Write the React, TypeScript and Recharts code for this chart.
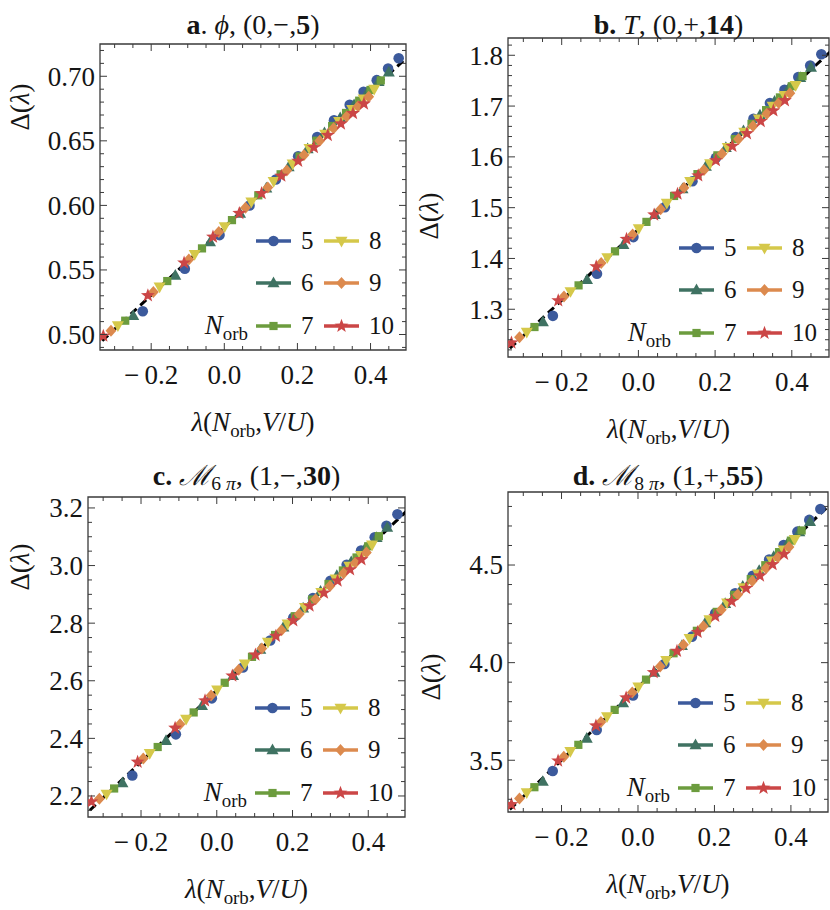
import React from "react";
import {
  ComposedChart,
  Scatter,
  Line,
  XAxis,
  YAxis,
  ReferenceArea,
  Legend,
} from "recharts";

const SERIF = '"Liberation Serif", "Times New Roman", serif';
const FRAME = "#3a3a3a";
const INK = "#151515";

// N_orb series, colours and marker kinds
const orbitals = [5, 6, 7, 8, 9, 10];
const colors = ["#3C5A9C", "#3F7262", "#6C9C3E", "#D5C84A", "#DC8A4E", "#CB4646"];
const markers = ["circle", "up", "square", "down", "diamond", "star"];

// lambda(N_orb, V/U) — same x positions in every panel
const lambda5 = [-0.223, -0.108, -0.013, 0.069, 0.141, 0.202, 0.254, 0.3, 0.343, 0.381, 0.417, 0.448, 0.477];
const lambda6 = [-0.249, -0.134, -0.039, 0.043, 0.115, 0.176, 0.228, 0.274, 0.317, 0.355, 0.391, 0.422, 0.45];
const lambda7 = [-0.271, -0.156, -0.061, 0.021, 0.093, 0.154, 0.206, 0.252, 0.295, 0.333, 0.369, 0.4, 0.428];
const lambda8 = [-0.291, -0.177, -0.081, 0.001, 0.074, 0.135, 0.187, 0.233, 0.276, 0.314, 0.35, 0.381, 0.41];
const lambda9 = [-0.31, -0.194, -0.097, -0.015, 0.058, 0.119, 0.171, 0.218, 0.261, 0.299, 0.335, 0.366, 0.395];
const lambda10 = [-0.331, -0.209, -0.11, -0.031, 0.041, 0.102, 0.156, 0.202, 0.245, 0.283, 0.319, 0.352, 0.382];

// a. phi
const phi5 = [0.518, 0.551, 0.577, 0.6, 0.62, 0.638, 0.653, 0.666, 0.678, 0.688, 0.697, 0.706, 0.714];
const phi6 = [0.5145, 0.5458, 0.5716, 0.5938, 0.6133, 0.6298, 0.6438, 0.6562, 0.6677, 0.6779, 0.6875, 0.6958, 0.7032];
const phi7 = [0.5107, 0.5414, 0.5667, 0.5886, 0.6078, 0.6241, 0.6379, 0.6501, 0.6615, 0.6716, 0.6811, 0.6894, 0.6968];
const phi8 = [0.5069, 0.5369, 0.5621, 0.5836, 0.6027, 0.6187, 0.6322, 0.6442, 0.6553, 0.6652, 0.6745, 0.6826, 0.6901];
const phi9 = [0.5029, 0.533, 0.5581, 0.5793, 0.5982, 0.6138, 0.6271, 0.6391, 0.65, 0.6598, 0.6689, 0.6768, 0.6841];
const phi10 = [0.4989, 0.5302, 0.5555, 0.5756, 0.5939, 0.6093, 0.6228, 0.6343, 0.6449, 0.6543, 0.6632, 0.6713, 0.6787];

// b. T
const t5 = [1.287, 1.37, 1.442, 1.501, 1.552, 1.598, 1.639, 1.675, 1.706, 1.732, 1.757, 1.78, 1.802];
const t6 = [1.275, 1.358, 1.427, 1.486, 1.537, 1.581, 1.618, 1.651, 1.682, 1.709, 1.734, 1.756, 1.776];
const t7 = [1.265, 1.347, 1.414, 1.472, 1.523, 1.566, 1.603, 1.635, 1.665, 1.692, 1.717, 1.739, 1.759];
const t8 = [1.255, 1.335, 1.402, 1.459, 1.509, 1.552, 1.587, 1.619, 1.649, 1.675, 1.7, 1.721, 1.741];
const t9 = [1.245, 1.325, 1.391, 1.447, 1.497, 1.539, 1.574, 1.606, 1.635, 1.661, 1.685, 1.706, 1.725];
const t10 = [1.234, 1.317, 1.384, 1.438, 1.486, 1.527, 1.563, 1.593, 1.621, 1.646, 1.67, 1.691, 1.711];

// c. M_6pi
const m6pi5 = [2.271, 2.414, 2.539, 2.646, 2.74, 2.819, 2.887, 2.947, 3.003, 3.052, 3.098, 3.138, 3.178];
const m6pi6 = [2.245, 2.392, 2.513, 2.618, 2.709, 2.786, 2.852, 2.91, 2.965, 3.013, 3.058, 3.097, 3.132];
const m6pi7 = [2.226, 2.37, 2.49, 2.593, 2.683, 2.759, 2.824, 2.882, 2.936, 2.983, 3.028, 3.067, 3.102];
const m6pi8 = [2.207, 2.348, 2.467, 2.569, 2.659, 2.734, 2.798, 2.855, 2.907, 2.954, 2.998, 3.036, 3.072];
const m6pi9 = [2.19, 2.33, 2.449, 2.549, 2.638, 2.712, 2.775, 2.832, 2.883, 2.929, 2.973, 3.01, 3.045];
const m6pi10 = [2.18, 2.318, 2.436, 2.531, 2.617, 2.69, 2.755, 2.809, 2.86, 2.905, 2.947, 2.986, 3.021];

// d. M_8pi
const m8pi5 = [3.445, 3.655, 3.832, 3.993, 4.133, 4.253, 4.355, 4.445, 4.528, 4.602, 4.671, 4.731, 4.787];
const m8pi6 = [3.391, 3.612, 3.793, 3.95, 4.087, 4.203, 4.302, 4.39, 4.471, 4.543, 4.611, 4.669, 4.722];
const m8pi7 = [3.362, 3.579, 3.758, 3.913, 4.048, 4.163, 4.26, 4.347, 4.428, 4.499, 4.566, 4.625, 4.677];
const m8pi8 = [3.334, 3.546, 3.724, 3.876, 4.012, 4.125, 4.221, 4.306, 4.385, 4.455, 4.521, 4.578, 4.632];
const m8pi9 = [3.304, 3.518, 3.696, 3.847, 3.98, 4.092, 4.186, 4.271, 4.349, 4.418, 4.484, 4.54, 4.592];
const m8pi10 = [3.274, 3.497, 3.677, 3.82, 3.95, 4.059, 4.156, 4.238, 4.314, 4.381, 4.445, 4.503, 4.556];

// dashed linear fits (two end points each)
const fitX = [-0.36, 0.51];
const fitPhi = [0.4883, 0.7174];
const fitT = [1.2058, 1.8136];
const fitM6pi = [2.1195, 3.1998];
const fitM8pi = [3.2021, 4.8242];

// ticks
const xMajor = [-0.2, 0, 0.2, 0.4];
const yMajorA = [0.5, 0.55, 0.6, 0.65, 0.7];
const yMajorB = [1.3, 1.4, 1.5, 1.6, 1.7, 1.8];
const yMajorC = [2.2, 2.4, 2.6, 2.8, 3.0, 3.2];
const yMajorD = [3.5, 4.0, 4.5];

const range = (start: number, stop: number, step: number) =>
  Array.from({ length: Math.round((stop - start) / step) + 1 }, (_, i) => +(start + i * step).toFixed(4));

const xTicks = range(-0.3, 0.45, 0.05);
const lambdas = [lambda5, lambda6, lambda7, lambda8, lambda9, lambda10];

const TICK_FONT = 27;
const fmt = (v: number, d: number) => (v < 0 ? "\u2212\u2009" : "") + Math.abs(v).toFixed(d);
const isMajor = (list: number[], v: number) => list.some((m) => Math.abs(m - v) < 1e-6);

function markerShape(kind: string, color: string, cx: number, cy: number) {
  switch (kind) {
    case "circle":
      return <circle cx={cx} cy={cy} r={5.3} fill={color} />;
    case "up":
      return <polygon points={`${cx},${cy - 6.4} ${cx + 6},${cy + 4.3} ${cx - 6},${cy + 4.3}`} fill={color} />;
    case "down":
      return <polygon points={`${cx - 6},${cy - 4.3} ${cx + 6},${cy - 4.3} ${cx},${cy + 6.4}`} fill={color} />;
    case "square":
      return <rect x={cx - 4.1} y={cy - 4.1} width={8.2} height={8.2} fill={color} />;
    case "diamond":
      return <polygon points={`${cx},${cy - 6} ${cx + 5.4},${cy} ${cx},${cy + 6} ${cx - 5.4},${cy}`} fill={color} />;
    default: {
      const pts: string[] = [];
      for (let k = 0; k < 10; k++) {
        const r = k % 2 === 0 ? 7.3 : 3;
        const a = -Math.PI / 2 + (k * Math.PI) / 5;
        pts.push(`${cx + r * Math.cos(a)},${cy + r * Math.sin(a)}`);
      }
      return <polygon points={pts.join(" ")} fill={color} />;
    }
  }
}

const makeXTick = (plotH: number) => (props: any) => {
  const { x, y, payload } = props;
  const v = payload.value;
  const major = isMajor(xMajor, v);
  const len = major ? 7 : 4;
  return (
    <g>
      <line x1={x} x2={x} y1={y} y2={y - len} stroke={FRAME} />
      <line x1={x} x2={x} y1={y - plotH} y2={y - plotH + len} stroke={FRAME} />
      {major && (
        <text x={x} y={y + 34} textAnchor="middle" fontFamily={SERIF} fontSize={TICK_FONT} fill={INK}>
          {fmt(v, 1)}
        </text>
      )}
    </g>
  );
};

const makeYTick = (plotW: number, majors: number[], digits: number) => (props: any) => {
  const { x, y, payload } = props;
  const v = payload.value;
  const major = isMajor(majors, v);
  const len = major ? 7 : 4;
  return (
    <g>
      <line x1={x} x2={x + len} y1={y} y2={y} stroke={FRAME} />
      <line x1={x + plotW} x2={x + plotW - len} y1={y} y2={y} stroke={FRAME} />
      {major && (
        <text x={x - 5} y={y} dy="0.35em" textAnchor="end" fontFamily={SERIF} fontSize={TICK_FONT} fill={INK}>
          {fmt(v, digits)}
        </text>
      )}
    </g>
  );
};

const Sub = ({ children }: { children: React.ReactNode }) => (
  <span style={{ fontSize: "0.7em", position: "relative", top: "0.3em" }}>{children}</span>
);

const legendRows = [16, 58, 101];

function LegendBox() {
  return (
    <div style={{ position: "relative", width: 215, height: 130, fontFamily: SERIF, fontSize: 25, color: INK }}>
      {orbitals.map((n, i) => {
        const col = Math.floor(i / 3);
        const cy = legendRows[i % 3];
        const lx = col === 0 ? 60 : 128;
        return (
          <React.Fragment key={n}>
            <svg style={{ position: "absolute", left: lx, top: cy - 8 }} width={35} height={16}>
              <line x1={0} x2={35} y1={8} y2={8} stroke={colors[i]} strokeWidth={3.6} />
              {markerShape(markers[i], colors[i], 17.5, 8)}
            </svg>
            <span style={{ position: "absolute", left: lx + 45, top: cy - 13, lineHeight: "26px" }}>{n}</span>
          </React.Fragment>
        );
      })}
      <span
        style={{
          position: "absolute",
          right: 215 - 52,
          top: legendRows[2] - 15,
          lineHeight: "28px",
          fontSize: 27,
          whiteSpace: "nowrap",
        }}
      >
        <i>N</i>
        <Sub>orb</Sub>
      </span>
    </div>
  );
}

const panels = [
  {
    id: "a",
    series: [phi5, phi6, phi7, phi8, phi9, phi10],
    fit: fitPhi,
    yDomain: [0.488, 0.725],
    yMajor: yMajorA,
    yTicks: range(0.49, 0.72, 0.01),
    digits: 2,
    L: 100, R: 406, T: 44, B: 350,
    yLab: [20, 107],
    title: (
      <>
        <b>a</b>. <i>ϕ</i>, (0,−,<b>5</b>)
      </>
    ),
  },
  {
    id: "b",
    series: [t5, t6, t7, t8, t9, t10],
    fit: fitT,
    yDomain: [1.206, 1.834],
    yMajor: yMajorB,
    yTicks: range(1.22, 1.82, 0.02),
    digits: 1,
    L: 508, R: 829, T: 38, B: 357,
    yLab: [429, 216],
    title: (
      <>
        <b>b.</b> <i>T</i>, (0,+,<b>14</b>)
      </>
    ),
  },
  {
    id: "c",
    series: [m6pi5, m6pi6, m6pi7, m6pi8, m6pi9, m6pi10],
    fit: fitM6pi,
    yDomain: [2.127, 3.238],
    yMajor: yMajorC,
    yTicks: range(2.15, 3.2, 0.05),
    digits: 1,
    L: 88, R: 405, T: 497, B: 817,
    yLab: [20, 567],
    title: (
      <>
        <b>c.</b> <i>ℳ</i>
        <Sub>
          6 <i>π</i>
        </Sub>
        , (1,−,<b>30</b>)
      </>
    ),
  },
  {
    id: "d",
    series: [m8pi5, m8pi6, m8pi7, m8pi8, m8pi9, m8pi10],
    fit: fitM8pi,
    yDomain: [3.235, 4.874],
    yMajor: yMajorD,
    yTicks: range(3.3, 4.8, 0.1),
    digits: 1,
    L: 508, R: 828, T: 492, B: 812,
    yLab: [431, 677],
    title: (
      <>
        <b>d.</b> <i>ℳ</i>
        <Sub>
          8 <i>π</i>
        </Sub>
        , (1,+,<b>55</b>)
      </>
    ),
  },
];

const xDomain = [-0.34, 0.497];

function Panel({ p }: { p: (typeof panels)[number] }) {
  const chartLeft = p.L - 80;
  const chartTop = p.T - 12;
  const width = Math.min(830, p.R + 4) - chartLeft;
  const height = p.B + 48 - chartTop;
  const plotW = p.R - p.L;
  const plotH = p.B - p.T;
  const fitData = fitX.map((x, i) => ({ x, y: p.fit[i] }));
  const cx = (p.L + p.R) / 2;

  return (
    <>
      <div style={{ position: "absolute", left: chartLeft, top: chartTop }}>
        <ComposedChart
          width={width}
          height={height}
          margin={{ top: p.T - chartTop, right: chartLeft + width - p.R, left: 0, bottom: 0 }}
        >
          <XAxis
            type="number"
            dataKey="x"
            domain={xDomain}
            allowDataOverflow
            ticks={xTicks}
            interval={0}
            axisLine={false}
            tickLine={false}
            tickSize={0}
            tickMargin={0}
            height={chartTop + height - p.B}
            tick={makeXTick(plotH)}
          />
          <YAxis
            type="number"
            dataKey="y"
            domain={p.yDomain}
            allowDataOverflow
            ticks={p.yTicks}
            interval={0}
            axisLine={false}
            tickLine={false}
            tickSize={0}
            tickMargin={0}
            width={p.L - chartLeft}
            tick={makeYTick(plotW, p.yMajor, p.digits)}
          />
          {p.series.map((vals, i) => (
            <Scatter
              key={orbitals[i]}
              name={String(orbitals[i])}
              data={vals.map((y, k) => ({ x: lambdas[i][k], y }))}
              fill={colors[i]}
              isAnimationActive={false}
              shape={(s: any) => markerShape(markers[i], colors[i], s.cx, s.cy)}
            />
          ))}
          <Line
            data={fitData}
            dataKey="y"
            type="linear"
            stroke="#000"
            strokeWidth={3}
            strokeDasharray="8 5"
            dot={false}
            activeDot={false}
            isAnimationActive={false}
          />
          <ReferenceArea
            x1={xDomain[0]}
            x2={xDomain[1]}
            y1={p.yDomain[0]}
            y2={p.yDomain[1]}
            fill="none"
            fillOpacity={0}
            stroke={FRAME}
            strokeWidth={1.3}
            ifOverflow="visible"
          />
          <Legend
            layout="horizontal"
            verticalAlign="middle"
            align="center"
            wrapperStyle={{ left: p.R - 210 - chartLeft, top: p.B - 125 - chartTop, width: 215, height: 130 }}
            content={() => <LegendBox />}
          />
        </ComposedChart>
      </div>
      <div
        style={{
          position: "absolute",
          left: cx,
          top: (p.id === "a" || p.id === "b" ? 34 : 485) - 23.5,
          transform: "translateX(-50%)",
          whiteSpace: "nowrap",
          fontFamily: SERIF,
          fontSize: 28,
          lineHeight: "28px",
          color: INK,
        }}
      >
        {p.title}
      </div>
      <div
        style={{
          position: "absolute",
          left: cx,
          top: p.B + 82 - 22.6,
          transform: "translateX(-50%)",
          whiteSpace: "nowrap",
          fontFamily: SERIF,
          fontSize: 27,
          lineHeight: "27px",
          color: INK,
        }}
      >
        <i>λ</i>(<i>N</i>
        <Sub>orb</Sub>,<i>V</i>/<i>U</i>)
      </div>
      <div
        style={{
          position: "absolute",
          left: p.yLab[0],
          top: p.yLab[1],
          transform: "translate(-50%, -50%) rotate(-90deg)",
          whiteSpace: "nowrap",
          fontFamily: SERIF,
          fontSize: 27,
          lineHeight: "27px",
          color: INK,
        }}
      >
        Δ(<i>λ</i>)
      </div>
    </>
  );
}

export default function App() {
  return (
    <div
      style={{
        position: "absolute",
        left: 0,
        top: 0,
        width: 830,
        height: 910,
        background: "#fff",
        overflow: "hidden",
      }}
    >
      {panels.map((p) => (
        <Panel key={p.id} p={p} />
      ))}
    </div>
  );
}
